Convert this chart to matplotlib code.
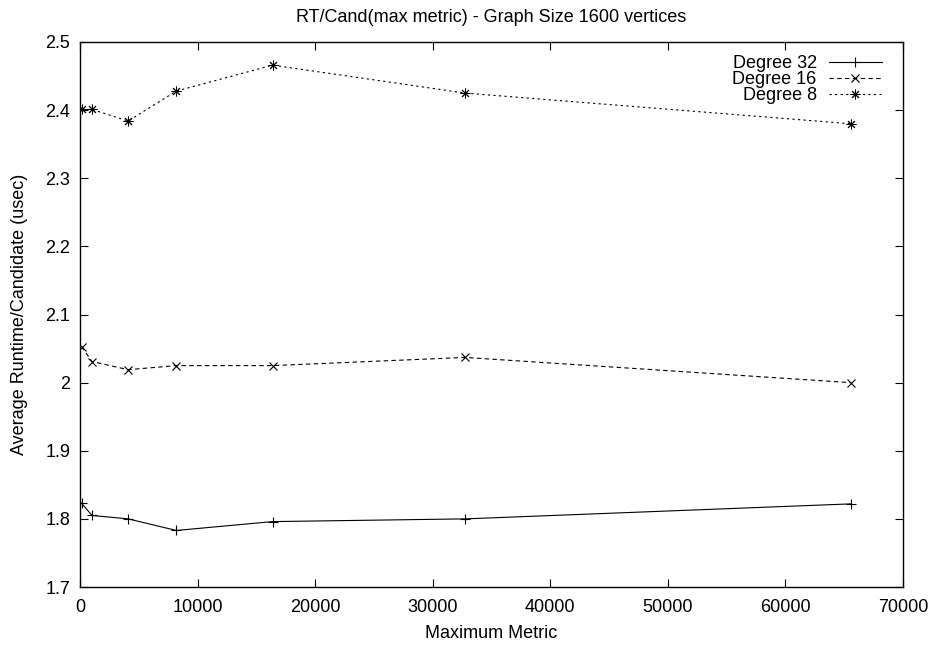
import matplotlib
matplotlib.use("Agg")
import matplotlib.pyplot as plt

plt.rcParams['font.family'] = ['Liberation Sans', 'DejaVu Sans']

# Maximum metric values used in the runs
max_metric = [128, 1024, 4096, 8192, 16384, 32768, 65536]

# Average runtime per candidate (usec) for each graph degree
deg32 = [1.823, 1.805, 1.800, 1.783, 1.796, 1.800, 1.822]
deg16 = [2.053, 2.031, 2.019, 2.025, 2.025, 2.037, 2.000]
deg8 = [2.401, 2.401, 2.384, 2.428, 2.466, 2.425, 2.380]

series_labels = ["Degree 32", "Degree 16", "Degree 8"]

xticks = [0, 10000, 20000, 30000, 40000, 50000, 60000, 70000]
yticks = [1.7, 1.8, 1.9, 2.0, 2.1, 2.2, 2.3, 2.4, 2.5]
ytick_labels = ["1.7", "1.8", "1.9", "2", "2.1", "2.2", "2.3", "2.4", "2.5"]

FS = 13

fig = plt.figure(figsize=(9.33, 6.48), dpi=100)
ax = fig.add_axes([80 / 933, 1 - 587 / 648, 823 / 933, 545 / 648])

lw = 0.8
ax.plot(max_metric, deg32, color="black", linewidth=lw, linestyle="-",
        marker="+", markersize=6.5, markeredgewidth=0.8, label=series_labels[0])
ax.plot(max_metric, deg16, color="black", linewidth=lw, linestyle=(0, (4, 3)),
        marker="x", markersize=5.5, markeredgewidth=0.8, label=series_labels[1])
ax.plot(max_metric, deg8, color="black", linewidth=lw, linestyle=(0, (2, 3)),
        marker=(8, 2, 0), markersize=7, markeredgewidth=0.7, label=series_labels[2])

ax.set_xlim(0, 70000)
ax.set_ylim(1.7, 2.5)
ax.set_xticks(xticks)
ax.set_xticklabels([str(v) for v in xticks])
ax.set_yticks(yticks)
ax.set_yticklabels(ytick_labels)

ax.tick_params(direction="in", length=6, width=0.8, top=True, right=True,
               labelsize=FS)
ax.tick_params(axis="x", pad=9)
ax.tick_params(axis="y", pad=7)
for spine in ax.spines.values():
    spine.set_linewidth(1.0)

ax.set_xlabel("Maximum Metric", fontsize=FS)
ax.xaxis.set_label_coords(0.5, -(625 - 587) / 545)
ax.set_ylabel("Average Runtime/Candidate (usec)", fontsize=FS)
ax.yaxis.set_label_coords(-(80 - 28) / 823, 0.5)
ax.set_title("RT/Cand(max metric) - Graph Size 1600 vertices", fontsize=FS, pad=14.5)

ax.legend(loc="upper right", frameon=False, markerfirst=False, fontsize=FS,
          handlelength=2.95, handletextpad=0.67, labelspacing=-0.06,
          borderpad=0, borderaxespad=0,
          bbox_to_anchor=((882 - 80) / 823, (587 - 55.5) / 545))

fig.savefig("out.png", dpi=100)
